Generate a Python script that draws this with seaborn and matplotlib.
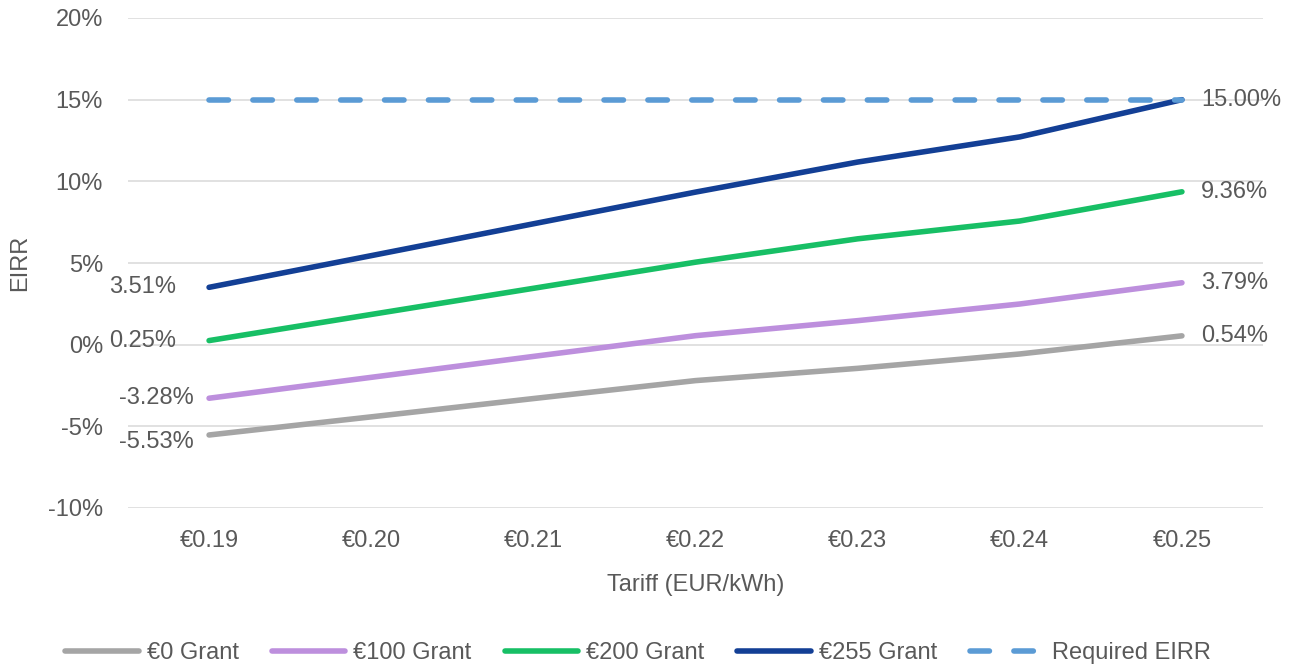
import matplotlib
matplotlib.use("Agg")
import matplotlib.pyplot as plt
import seaborn as sns
import pandas as pd

# Tariff levels (EUR/kWh) and equity IRR (%) per grant scenario
tariffs = ["€0.19", "€0.20", "€0.21", "€0.22", "€0.23", "€0.24", "€0.25"]
grant_0 = [-5.53, -4.42, -3.30, -2.20, -1.45, -0.57, 0.54]
grant_100 = [-3.28, -2.00, -0.72, 0.55, 1.47, 2.49, 3.79]
grant_200 = [0.25, 1.85, 3.45, 5.05, 6.48, 7.57, 9.36]
grant_255 = [3.51, 5.45, 7.40, 9.34, 11.18, 12.72, 15.00]
required_eirr = [15.0] * 7

series_names = ["€0 Grant", "€100 Grant", "€200 Grant", "€255 Grant", "Required EIRR"]
series_values = [grant_0, grant_100, grant_200, grant_255, required_eirr]
y_ticks = [-10, -5, 0, 5, 10, 15, 20]

colors = {
    "€0 Grant": "#A5A5A5",
    "€100 Grant": "#BD8FDD",
    "€200 Grant": "#17BF65",
    "€255 Grant": "#133F95",
    "Required EIRR": "#5B9BD5",
}
dashes = {
    "€0 Grant": "",
    "€100 Grant": "",
    "€200 Grant": "",
    "€255 Grant": "",
    "Required EIRR": (3.5, 4.4),
}

rows = []
for name, vals in zip(series_names, series_values):
    for t, v in zip(tariffs, vals):
        rows.append({"Tariff": t, "EIRR": v, "Series": name})
df = pd.DataFrame(rows)

sns.set_theme(style="white")
plt.rcParams["font.family"] = ["Liberation Sans", "DejaVu Sans"]
text_color = "#595959"
fs = 17

fig = plt.figure(figsize=(13.02, 6.70), dpi=100)
ax = fig.add_axes([128 / 1302, 1 - 508 / 670, (1263 - 128) / 1302, (508 - 18) / 670])

sns.lineplot(
    data=df, x="Tariff", y="EIRR", hue="Series", style="Series",
    palette=colors, dashes=dashes, hue_order=series_names, style_order=series_names,
    linewidth=4.0, sort=False, ax=ax,
)
for line in ax.get_lines():
    line.set_solid_capstyle("round")
    line.set_dash_capstyle("round")
    if line.get_linestyle() != "-":
        line.set_zorder(3)

ax.set_xlim(-0.5, len(tariffs) - 0.5)
ax.set_ylim(-10, 20)
ax.set_yticks(y_ticks)
ax.set_yticklabels([f"{v}%" for v in y_ticks])
ax.grid(axis="y", color="#D9D9D9", linewidth=1.1)
ax.grid(axis="x", visible=False)
ax.set_axisbelow(True)
for s in ax.spines.values():
    s.set_visible(False)
ax.tick_params(axis="both", length=0, labelsize=fs, labelcolor=text_color)
ax.tick_params(axis="y", pad=18)
ax.tick_params(axis="x", pad=16)

ax.set_xlabel("Tariff (EUR/kWh)", fontsize=fs, color=text_color)
ax.set_ylabel("EIRR", fontsize=fs, color=text_color)
ax.xaxis.set_label_coords(0.5, -0.135)
ax.yaxis.set_label_coords(-0.085, 0.5)

# Value labels at both ends of each grant scenario
last = len(tariffs) - 1
for vals in [grant_0, grant_100, grant_200, grant_255]:
    ax.annotate(f"{vals[last]:.2f}%", (last, vals[last]), xytext=(14, 0),
                textcoords="offset points", ha="left", va="center",
                fontsize=fs, color=text_color)

left_offsets = [(-11, -5), (-11, 0), (-24, 0), (-24, 0)]
for vals, off in zip([grant_0, grant_100, grant_200, grant_255], left_offsets):
    ax.annotate(f"{vals[0]:.2f}%", (0, vals[0]), xytext=off,
                textcoords="offset points", ha="right", va="center",
                fontsize=fs, color=text_color)

handles = ax.get_legend().legend_handles
labels = [t.get_text() for t in ax.get_legend().get_texts()]
ax.get_legend().remove()
for h in handles:
    h.set_linewidth(4.0)
    h.set_solid_capstyle("round")
    h.set_dash_capstyle("round")
fig.legend(
    handles, labels, loc="center", bbox_to_anchor=(0.49, 1 - 653 / 670),
    ncol=5, frameon=False, fontsize=fs, handlelength=3.1, handletextpad=0.35,
    columnspacing=1.4, labelcolor=text_color,
)

fig.savefig("out.png", dpi=100, facecolor="white")
